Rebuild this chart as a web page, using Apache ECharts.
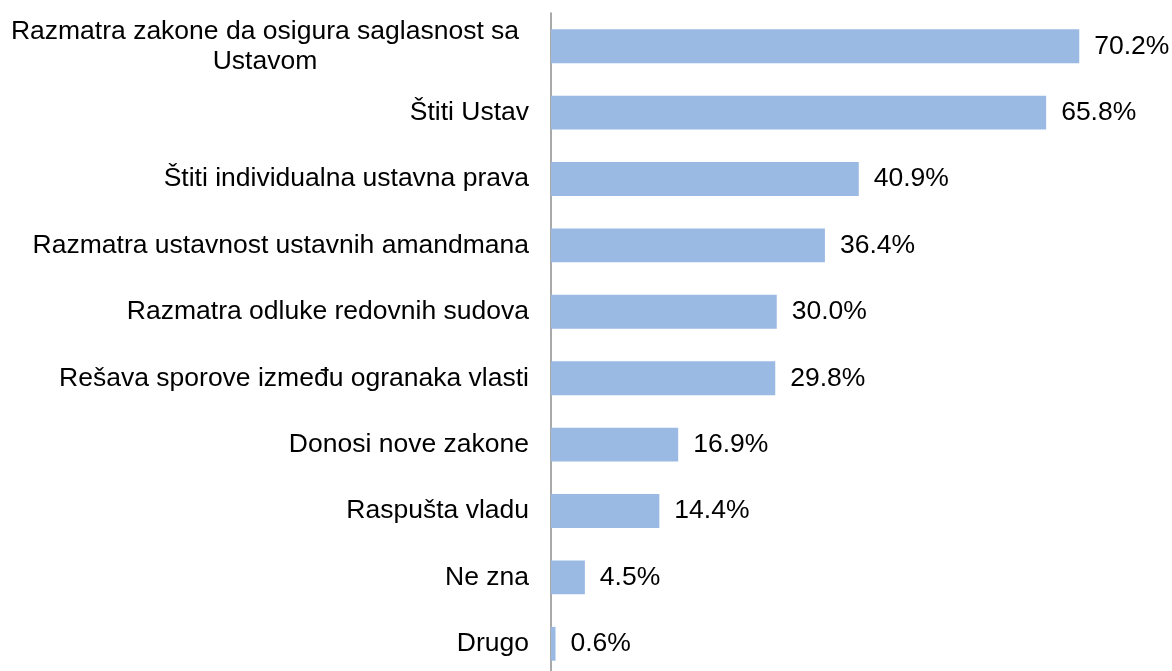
<!DOCTYPE html>
<html>
<head>
<meta charset="utf-8">
<script src="https://cdn.jsdelivr.net/npm/echarts@6/dist/echarts.min.js"></script>
<style>
  html, body { margin: 0; padding: 0; background: #fff; }
  #chart { width: 1172px; height: 671px; }
</style>
</head>
<body>
<div id="chart"></div>
<script>
// kategorije odozgo nadole
const categories = [
  'Razmatra zakone da osigura saglasnost sa Ustavom',
  'Štiti Ustav',
  'Štiti individualna ustavna prava',
  'Razmatra ustavnost ustavnih amandmana',
  'Razmatra odluke redovnih sudova',
  'Rešava sporove između ogranaka vlasti',
  'Donosi nove zakone',
  'Raspušta vladu',
  'Ne zna',
  'Drugo'
];
const values = [70.2, 65.8, 40.9, 36.4, 30.0, 29.8, 16.9, 14.4, 4.5, 0.6];

const chart = echarts.init(document.getElementById('chart'));
const font = '"Liberation Sans", Arial, sans-serif';

chart.setOption({
  animation: false,
  grid: { left: 551, width: 602, top: 13, height: 664, outerBoundsMode: 'none' },
  xAxis: {
    type: 'value',
    min: 0,
    max: 80,
    show: false
  },
  yAxis: {
    type: 'category',
    inverse: true,
    data: categories,
    axisTick: { show: false },
    axisLine: { show: true, lineStyle: { color: '#8c8c8c', width: 1.5 } },
    axisLabel: {
      margin: 22,
      fontSize: 26.5,
      fontFamily: font,
      color: '#000',
      formatter: function (v) {
        // dugi naziv se lomi u dva reda, centrirano kao u originalu
        if (v.length > 40) {
          const cut = v.lastIndexOf(' ');
          return '{c|' + v.slice(0, cut) + '}\n{c|' + v.slice(cut + 1) + '}';
        }
        return v;
      },
      rich: {
        c: { width: 528, align: 'center', fontSize: 26.5, fontFamily: font, color: '#000', lineHeight: 30 }
      }
    }
  },
  series: [
    {
      type: 'bar',
      data: values,
      barCategoryGap: '49%',
      itemStyle: { color: '#9ab9e3' },
      label: {
        show: true,
        position: 'right',
        distance: 15,
        fontSize: 26.5,
        fontFamily: font,
        color: '#000',
        formatter: function (p) { return p.value.toFixed(1) + '%'; }
      }
    }
  ]
});

window.addEventListener('resize', function () {
  chart.resize();
});
</script>
</body>
</html>
